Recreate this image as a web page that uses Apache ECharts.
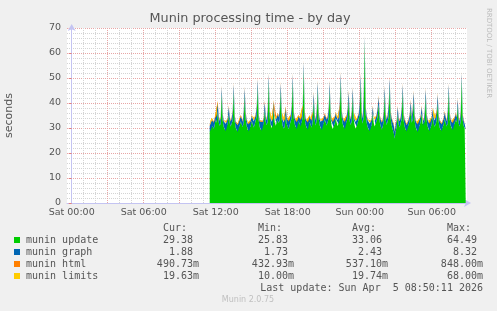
<!DOCTYPE html>
<html>
<head>
<meta charset="utf-8">
<script src="https://cdn.jsdelivr.net/npm/echarts@6/dist/echarts.min.js"></script>
<style>
  html, body { margin: 0; padding: 0; background: #F0F0F0; }
  #chart { width: 497px; height: 311px; }
</style>
</head>
<body>
<div id="chart"></div>
<script>
// ---- data (5-minute samples, first sample Sat 11:30) ----
const startMinute = 690;   // minutes after Sat 00:00
const stepMinutes = 5;

const updateVals = [
  28.5,30.2,31.5,30.8,29.6,31.2,33.5,32.1,36.8,32.4,30.9,31.8,
  43.6,33.1,30.5,29.4,28.7,29.9,31.6,35.4,32.0,30.6,31.9,33.0,
  44.6,32.6,30.1,29.0,28.4,29.8,30.9,32.7,31.5,30.4,32.2,43.1,
  33.4,30.8,29.2,28.6,29.5,30.7,32.9,31.6,30.2,31.4,33.1,34.6,
  46.5,33.0,30.4,29.3,28.9,30.1,31.8,37.2,32.5,31.1,32.6,48.6,
  34.1,31.3,29.8,30.4,37.6,32.2,30.9,31.7,33.4,32.0,33.2,45.0,
  33.5,30.9,29.7,30.6,35.3,31.8,30.5,29.6,31.2,32.8,33.9,48.5,
  34.2,31.6,30.3,29.5,31.0,32.7,31.4,30.6,32.3,34.4,53.4,33.8,
  31.2,30.0,29.3,30.8,32.5,31.1,30.2,32.6,41.0,32.9,31.0,33.2,
  45.5,33.6,31.1,29.8,29.1,30.4,31.9,33.5,32.2,31.0,32.4,34.0,
  45.5,33.4,30.8,29.6,30.3,31.8,33.9,32.1,30.7,31.5,33.8,49.0,
  34.5,31.7,30.2,29.5,30.9,32.6,34.1,41.5,32.8,31.2,32.7,43.0,
  33.3,30.9,29.7,30.5,32.1,33.6,35.2,48.4,33.9,31.8,34.7,64.49,
  35.6,32.1,30.4,29.3,28.7,29.9,31.2,35.9,32.0,30.6,31.3,33.0,
  34.8,39.6,32.5,30.7,29.4,30.6,32.3,43.4,33.1,31.2,32.8,34.5,
  46.9,33.7,31.0,29.4,28.1,25.83,28.8,30.6,35.8,31.4,30.2,32.1,
  33.6,44.6,32.8,30.5,29.2,28.6,29.9,31.3,33.0,38.0,32.1,33.4,
  41.4,32.6,30.3,29.0,28.4,29.6,31.0,32.7,35.9,31.5,30.8,32.6,
  42.6,32.9,30.6,29.3,28.7,30.2,31.8,34.9,31.7,30.5,31.6,33.2,
  40.4,32.4,30.1,29.2,28.8,30.3,31.6,33.8,31.9,30.6,32.0,44.7,
  33.4,31.0,29.7,29.1,30.5,31.9,33.3,32.2,39.0,31.8,30.6,32.9,
  49.5,33.2,30.8,29.9,29.38
];

const graphVals = [
  2.1,2.3,2.0,2.2,2.6,2.4,2.1,2.9,3.4,2.2,2.0,2.3,
  2.8,2.5,2.2,2.6,2.9,2.4,2.1,3.1,2.3,2.0,2.2,3.6,
  2.9,2.4,2.1,2.5,2.8,2.6,2.2,2.0,2.3,2.1,4.2,2.9,
  2.6,2.3,2.4,2.8,2.5,2.1,1.9,2.2,2.4,2.0,2.1,3.8,
  2.9,2.4,2.2,2.7,2.9,2.3,2.1,3.2,2.2,2.0,4.6,2.8,
  2.5,2.2,2.6,2.4,3.0,2.3,2.1,2.0,2.2,2.4,3.9,2.9,
  2.6,2.3,2.5,2.2,2.8,2.4,2.6,2.9,2.3,2.1,4.4,2.9,
  2.5,2.3,2.6,2.8,2.2,2.0,2.4,2.6,2.1,4.1,3.0,2.6,
  2.4,2.7,2.9,2.3,2.1,2.3,2.6,3.3,2.9,2.4,2.2,3.8,
  2.9,2.5,2.3,2.6,2.9,2.4,2.1,2.0,2.2,2.4,2.1,4.0,
  2.9,2.4,2.2,2.6,2.8,2.3,2.0,2.2,2.4,2.1,5.2,2.9,
  2.5,2.3,2.6,2.8,2.4,2.1,3.6,2.9,2.4,2.2,3.7,2.9,
  2.6,2.4,2.7,2.5,2.2,2.0,4.3,3.0,2.4,2.1,8.32,1.9,
  2.8,2.5,2.7,3.0,2.9,2.5,2.3,2.6,2.4,2.2,2.1,2.3,
  3.2,2.9,2.4,2.6,2.8,2.5,3.7,3.0,2.4,2.2,2.3,4.9,
  3.0,2.5,2.7,2.9,3.1,2.8,2.6,2.4,2.6,2.3,2.5,2.2,
  4.1,2.8,2.5,2.7,2.9,2.6,2.3,2.1,2.2,2.8,2.4,3.9,
  3.0,2.5,2.6,2.8,3.0,2.7,2.4,2.2,2.6,2.3,2.1,3.8,
  2.9,2.4,2.6,2.8,3.0,2.5,2.2,2.7,2.3,2.5,2.2,3.6,
  3.0,2.5,2.6,2.9,2.7,2.4,2.2,2.5,2.3,2.1,4.5,2.7,
  2.5,2.3,2.6,2.8,2.4,2.1,2.3,2.0,2.5,2.4,2.2,3.5,
  2.4,2.2,2.0,1.73,1.88
];

const htmlVals = [
  .51,.49,.53,.55,.50,.48,.52,.57,.61,.50,.47,.52,
  .56,.52,.49,.51,.54,.50,.47,.58,.52,.49,.51,.60,
  .57,.52,.48,.50,.53,.51,.48,.46,.50,.49,.63,.58,
  .54,.50,.52,.55,.51,.47,.45,.49,.52,.48,.50,.62,
  .59,.53,.50,.54,.56,.51,.48,.60,.52,.47,.66,.58,
  .55,.51,.53,.50,.59,.52,.48,.47,.50,.53,.61,.57,
  .54,.50,.52,.49,.57,.51,.53,.55,.50,.47,.64,.58,
  .55,.51,.53,.56,.49,.46,.51,.54,.48,.62,.70,.56,
  .52,.55,.57,.50,.47,.50,.53,.59,.58,.52,.49,.61,
  .58,.53,.50,.54,.57,.51,.48,.46,.49,.52,.48,.63,
  .58,.52,.49,.54,.56,.50,.47,.49,.52,.48,.67,.59,
  .54,.50,.53,.56,.51,.48,.60,.58,.52,.49,.62,.58,
  .55,.51,.54,.52,.49,.46,.65,.60,.52,.48,.848,.62,
  .57,.53,.55,.58,.56,.52,.49,.54,.51,.48,.47,.50,
  .60,.58,.51,.54,.56,.52,.61,.59,.51,.49,.50,.68,
  .59,.53,.55,.57,.59,.56,.53,.51,.54,.50,.52,.48,
  .63,.57,.52,.55,.57,.53,.50,.47,.48,.56,.51,.62,
  .58,.52,.54,.56,.58,.54,.51,.48,.54,.50,.47,.61,
  .57,.51,.53,.55,.58,.52,.49,.55,.50,.52,.48,.60,
  .58,.52,.54,.57,.55,.51,.48,.53,.50,.47,.65,.55,
  .53,.49,.52,.55,.50,.47,.49,.4329,.52,.50,.48,.59,
  .51,.49,.47,.45,.4907
];

const limitsVals = [
  .020,.018,.021,.019,.022,.017,.020,.024,.026,.019,.018,.020,
  .023,.019,.018,.020,.021,.019,.017,.022,.020,.018,.019,.025,
  .022,.020,.018,.019,.021,.020,.018,.016,.019,.018,.027,.023,
  .021,.019,.020,.022,.019,.017,.016,.018,.020,.018,.019,.024,
  .023,.020,.019,.021,.022,.019,.018,.023,.020,.017,.028,.022,
  .021,.019,.020,.018,.023,.020,.018,.017,.019,.020,.025,.022,
  .021,.019,.020,.018,.022,.019,.020,.021,.019,.017,.026,.023,
  .021,.019,.020,.022,.018,.016,.019,.021,.018,.024,.031,.022,
  .020,.021,.022,.019,.017,.019,.020,.023,.022,.020,.018,.024,
  .022,.020,.019,.021,.022,.019,.018,.016,.018,.020,.018,.025,
  .023,.020,.018,.021,.022,.019,.017,.018,.020,.018,.027,.023,
  .021,.019,.020,.022,.019,.018,.023,.022,.020,.018,.024,.022,
  .021,.019,.021,.020,.018,.016,.026,.023,.020,.018,.068,.024,
  .022,.020,.021,.023,.022,.020,.018,.021,.019,.018,.017,.019,
  .023,.022,.019,.021,.022,.020,.024,.023,.019,.018,.019,.027,
  .023,.020,.021,.022,.023,.021,.020,.019,.021,.019,.020,.018,
  .025,.022,.020,.021,.022,.020,.019,.017,.018,.021,.019,.024,
  .022,.020,.021,.022,.023,.021,.019,.018,.021,.019,.017,.024,
  .022,.019,.020,.021,.022,.020,.018,.021,.019,.020,.018,.023,
  .022,.020,.021,.022,.021,.019,.018,.020,.019,.010,.026,.021,
  .020,.018,.020,.021,.019,.017,.018,.016,.020,.019,.018,.023,
  .019,.018,.017,.016,.01963
];

const seriesNames  = ['munin update', 'munin graph', 'munin html', 'munin limits'];
const seriesColors = ['#00CC00', '#0066B3', '#FF8000', '#FFCC00'];
const curVals = ['29.38 ', '1.88 ', '490.73m', '19.63m'];
const minVals = ['25.83 ', '1.73 ', '432.93m', '10.00m'];
const avgVals = ['33.06 ', '2.43 ', '537.10m', '19.74m'];
const maxVals = ['64.49 ', '8.32 ', '848.00m', '68.00m'];
const statHeaders = ['Cur:', 'Min:', 'Avg:', 'Max:'];

const xLabelValues = [0, 360, 720, 1080, 1440, 1800];   // minutes after Sat 00:00
const xLabelTexts  = ['Sat 00:00', 'Sat 06:00', 'Sat 12:00', 'Sat 18:00', 'Sun 00:00', 'Sun 06:00'];
const xMajorValues = [0, 180, 360, 540, 720, 900, 1080, 1260, 1440, 1620, 1800];

const titleText = 'Munin processing time - by day';
const lastUpdate = 'Last update: Sun Apr  5 08:50:11 2026';
const versionText = 'Munin 2.0.75';
const sideText = 'RRDTOOL / TOBI OETIKER';

// ---- build ----
const xMin = -23.5, xMax = 1976.5;
const xMinorValues = [];
for (let m = 0; m <= 1920; m += 60) if (m % 180 !== 0) xMinorValues.push(m);

// value first so the stack is applied to the value (y) dimension
function toPairs(arr) { return arr.map((v, i) => [v, startMinute + i * stepMinutes]); }
const allVals = [updateVals, graphVals, htmlVals, limitsVals];

const MONO = '10px "DejaVu Sans Mono", monospace';
const TXT = '#555555';
const graphic = [];
graphic.push({ type: 'text', x: 250, y: 19, style: { text: titleText, font: '12.8px "DejaVu Sans"', fill: TXT, align: 'center', verticalAlign: 'middle' } });
graphic.push({ type: 'text', x: 489, y: 53, rotation: -Math.PI / 2, style: { text: sideText, font: '7px "DejaVu Sans"', fill: '#bbbbbb', align: 'center', verticalAlign: 'middle' } });
const colRight = [199, 294, 388, 483];
const rowY = [240, 252, 264, 276];
statHeaders.forEach((h, c) => {
  graphic.push({ type: 'text', x: colRight[c] - 12, y: 228, style: { text: h, font: MONO, fill: TXT, align: 'right', verticalAlign: 'middle' } });
});
const statCols = [curVals, minVals, avgVals, maxVals];
seriesNames.forEach((name, r) => {
  graphic.push({ type: 'rect', shape: { x: 14, y: rowY[r] - 3, width: 6, height: 6 }, style: { fill: seriesColors[r] } });
  graphic.push({ type: 'text', x: 26, y: rowY[r], style: { text: name, font: MONO, fill: TXT, align: 'left', verticalAlign: 'middle' } });
  statCols.forEach((col, c) => {
    graphic.push({ type: 'text', x: colRight[c], y: rowY[r], style: { text: col[r], font: MONO, fill: TXT, align: 'right', verticalAlign: 'middle' } });
  });
});
graphic.push({ type: 'text', x: 483, y: 288, style: { text: lastUpdate, font: MONO, fill: TXT, align: 'right', verticalAlign: 'middle' } });
graphic.push({ type: 'text', x: 248, y: 300, style: { text: versionText, font: '8px "DejaVu Sans"', fill: '#c0c0c0', align: 'center', verticalAlign: 'middle' } });

const AXIS_COLOR = '#c4c4f2';
const MAJOR = { color: '#e8a6a6', width: 1, type: [1, 1] };
const MINOR = { color: '#d4d4d4', width: 1, type: [1, 1] };

const option = {
  animation: false,
  backgroundColor: '#F0F0F0',
  grid: { left: 67, top: 28, width: 400, height: 175, show: true, backgroundColor: '#ffffff', borderWidth: 0,
          containLabel: false, outerBoundsMode: 'none' },
  xAxis: [
    {
      type: 'value', min: xMin, max: xMax, position: 'bottom',
      axisLine: { show: true, onZero: false, lineStyle: { color: AXIS_COLOR }, symbol: ['none', 'arrow'], symbolSize: [6, 7], symbolOffset: [0, 4] },
      axisTick: { show: false, customValues: xMajorValues },
      axisLabel: { customValues: xLabelValues, margin: 5, color: TXT, fontFamily: 'DejaVu Sans', fontSize: 9.5,
        formatter: v => { const k = xLabelValues.indexOf(+v); return k >= 0 ? xLabelTexts[k] : ''; } },
      splitLine: { show: true, lineStyle: MAJOR }
    },
    {
      type: 'value', min: xMin, max: xMax, position: 'bottom', gridIndex: 0,
      axisLine: { show: false }, axisTick: { show: false, customValues: xMinorValues },
      axisLabel: { show: false, customValues: xMinorValues },
      splitLine: { show: true, lineStyle: MINOR }
    }
  ],
  yAxis: {
    type: 'value', min: 0, max: 70, interval: 10,
    name: 'seconds', nameLocation: 'middle', nameGap: 52, nameRotate: 90,
    nameTextStyle: { color: TXT, fontFamily: 'DejaVu Sans', fontSize: 11 },
    axisLine: { show: true, lineStyle: { color: AXIS_COLOR }, symbol: ['none', 'arrow'], symbolSize: [6, 7], symbolOffset: [0, 4] },
    axisTick: { show: true, length: 3, lineStyle: { color: '#e08080' } },
    axisLabel: { color: TXT, fontFamily: 'DejaVu Sans', fontSize: 9.5, margin: 6 },
    splitLine: { show: true, lineStyle: MAJOR },
    minorTick: { show: false, splitNumber: 5 },
    minorSplitLine: { show: true, lineStyle: MINOR }
  },
  series: allVals.map((vals, k) => ({
    name: seriesNames[k],
    type: 'line',
    xAxisIndex: 0,
    stack: 'total',
    data: toPairs(vals),
    encode: { x: 1, y: 0 },
    showSymbol: false,
    symbol: 'none',
    lineStyle: { width: 0 },
    areaStyle: { color: seriesColors[k], opacity: 1 },
    itemStyle: { color: seriesColors[k] },
    z: 2
  })),
  graphic: graphic
};

const chart = echarts.init(document.getElementById('chart'), null, { renderer: 'canvas' });
chart.setOption(option);
</script>
</body>
</html>
